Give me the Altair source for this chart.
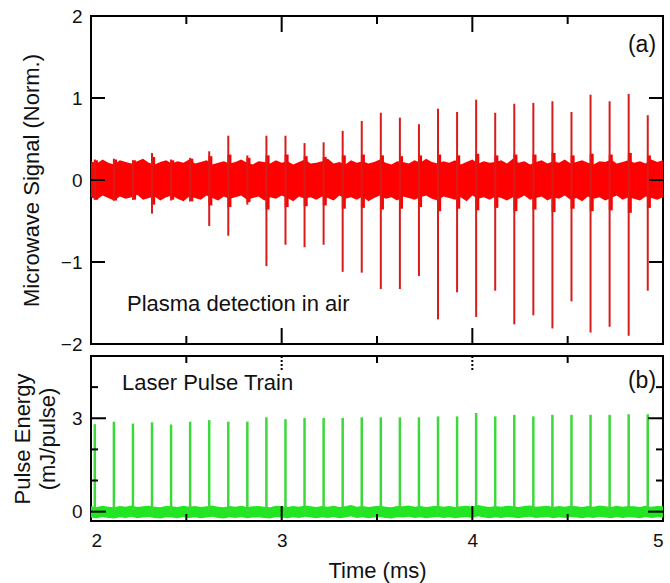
import altair as alt
import numpy as np
import pandas as pd

FONT = "Liberation Sans"
W, H1, H2 = 572, 328, 165

# ---- pulse times (ms) ----
pulse_t = [2.02, 2.12, 2.22, 2.32, 2.42, 2.52, 2.62, 2.72, 2.82, 2.92,
           3.02, 3.12, 3.22, 3.32, 3.42, 3.52, 3.62, 3.72, 3.82, 3.92,
           4.02, 4.12, 4.22, 4.32, 4.42, 4.52, 4.62, 4.72, 4.82, 4.92]

# ---- (a) microwave spikes ----
mw_pos = [0.25, 0.26, 0.24, 0.33, 0.25, 0.27, 0.35, 0.54, 0.30, 0.54,
          0.54, 0.45, 0.46, 0.60, 0.72, 0.82, 0.76, 0.68, 0.87, 0.83,
          0.98, 0.82, 0.93, 0.94, 0.96, 0.83, 1.04, 0.96, 1.05, 0.79]
mw_neg = [-0.24, -0.25, -0.24, -0.41, -0.25, -0.26, -0.56, -0.68, -0.30, -1.05,
          -0.79, -0.82, -0.79, -1.12, -1.13, -1.33, -1.33, -1.17, -1.70, -1.37,
          -1.67, -1.35, -1.76, -1.65, -1.81, -1.48, -1.86, -1.79, -1.90, -1.35]
mw_sh_hi = [0.24, 0.25, 0.24, 0.28, 0.24, 0.26, 0.29, 0.31, 0.27, 0.30,
            0.31, 0.29, 0.28, 0.30, 0.31, 0.30, 0.29, 0.30, 0.31, 0.30,
            0.32, 0.30, 0.31, 0.31, 0.33, 0.30, 0.32, 0.31, 0.33, 0.30]
mw_sh_lo = [-0.24, -0.25, -0.24, -0.30, -0.24, -0.26, -0.31, -0.33, -0.27, -0.36,
            -0.33, -0.32, -0.31, -0.35, -0.34, -0.36, -0.35, -0.33, -0.38, -0.35,
            -0.37, -0.34, -0.38, -0.36, -0.39, -0.35, -0.38, -0.37, -0.40, -0.34]

# ---- (a) noise band envelope ----
mw_hi = [0.23, 0.20, 0.25, 0.21, 0.19, 0.24, 0.22, 0.20, 0.23, 0.26,
         0.21, 0.19, 0.22, 0.24, 0.20, 0.23, 0.21, 0.25, 0.20, 0.22,
         0.24, 0.19, 0.21, 0.23, 0.20, 0.22, 0.25, 0.21, 0.19, 0.23,
         0.22, 0.20, 0.24, 0.21, 0.23, 0.19, 0.22, 0.25, 0.20, 0.21,
         0.23, 0.26, 0.20, 0.22, 0.19, 0.24, 0.21, 0.23, 0.20, 0.22,
         0.25, 0.21, 0.19, 0.23, 0.22, 0.20, 0.24, 0.21, 0.26, 0.22,
         0.20, 0.23, 0.21, 0.24, 0.19, 0.22, 0.25, 0.20, 0.23, 0.21,
         0.22, 0.24, 0.20, 0.26, 0.21, 0.23, 0.19, 0.22, 0.24, 0.20,
         0.23, 0.21, 0.25, 0.20, 0.22, 0.24, 0.21, 0.19, 0.23, 0.22,
         0.25, 0.20, 0.22, 0.24, 0.21, 0.23, 0.20, 0.25, 0.22, 0.24]
mw_lo = [-0.21, -0.24, -0.19, -0.22, -0.25, -0.20, -0.23, -0.21, -0.18, -0.24,
         -0.22, -0.20, -0.25, -0.21, -0.19, -0.23, -0.26, -0.20, -0.22, -0.24,
         -0.19, -0.22, -0.25, -0.20, -0.23, -0.21, -0.19, -0.24, -0.22, -0.20,
         -0.25, -0.21, -0.23, -0.19, -0.22, -0.26, -0.20, -0.23, -0.21, -0.24,
         -0.20, -0.22, -0.25, -0.19, -0.23, -0.21, -0.24, -0.20, -0.26, -0.22,
         -0.19, -0.23, -0.21, -0.25, -0.20, -0.22, -0.24, -0.21, -0.19, -0.23,
         -0.25, -0.20, -0.22, -0.24, -0.21, -0.26, -0.19, -0.23, -0.21, -0.24,
         -0.20, -0.22, -0.25, -0.21, -0.23, -0.19, -0.24, -0.22, -0.20, -0.25,
         -0.21, -0.23, -0.19, -0.24, -0.22, -0.26, -0.20, -0.23, -0.21, -0.25,
         -0.22, -0.19, -0.24, -0.21, -0.23, -0.25, -0.20, -0.22, -0.24, -0.21]

# ---- (b) laser pulse energies (mJ/pulse) ----
laser_e = [2.81, 2.89, 2.83, 2.87, 2.80, 2.89, 2.94, 2.89, 2.89, 3.03,
           2.97, 3.01, 3.01, 3.01, 3.03, 3.03, 3.03, 3.03, 3.06, 3.06,
           3.17, 3.06, 3.11, 3.06, 3.11, 3.11, 3.11, 3.11, 3.13, 3.13]
las_hi = [0.17, 0.15, 0.19, 0.16, 0.14, 0.18, 0.16, 0.20, 0.15, 0.17,
          0.19, 0.16, 0.14, 0.18, 0.17, 0.15, 0.19, 0.16, 0.18, 0.15,
          0.17, 0.20, 0.16, 0.14, 0.18, 0.16, 0.19, 0.15, 0.17, 0.18,
          0.16, 0.14, 0.19, 0.17, 0.15, 0.18, 0.16, 0.20, 0.17, 0.15,
          0.18, 0.16, 0.19, 0.15, 0.17, 0.21, 0.16, 0.18, 0.15, 0.17,
          0.19, 0.16, 0.14, 0.18, 0.17, 0.20, 0.16, 0.18, 0.15, 0.17,
          0.19, 0.16, 0.18, 0.15, 0.17, 0.19, 0.16, 0.21, 0.17, 0.15,
          0.18, 0.16, 0.19, 0.17, 0.15, 0.18, 0.20, 0.16, 0.17, 0.19,
          0.15, 0.18, 0.16, 0.19, 0.17, 0.15, 0.18, 0.16, 0.20, 0.17,
          0.15, 0.19, 0.16, 0.18, 0.17, 0.15, 0.19, 0.16, 0.18, 0.17]
las_lo = [-0.19, -0.21, -0.17, -0.20, -0.22, -0.18, -0.20, -0.16, -0.21, -0.19,
          -0.17, -0.20, -0.22, -0.18, -0.19, -0.21, -0.17, -0.20, -0.18, -0.21,
          -0.19, -0.16, -0.20, -0.22, -0.18, -0.20, -0.17, -0.21, -0.19, -0.18,
          -0.20, -0.22, -0.17, -0.19, -0.21, -0.18, -0.20, -0.16, -0.19, -0.21,
          -0.18, -0.20, -0.17, -0.21, -0.19, -0.15, -0.20, -0.18, -0.21, -0.19,
          -0.17, -0.20, -0.22, -0.18, -0.19, -0.16, -0.20, -0.18, -0.21, -0.19,
          -0.17, -0.20, -0.18, -0.21, -0.19, -0.17, -0.20, -0.15, -0.19, -0.21,
          -0.18, -0.20, -0.17, -0.19, -0.21, -0.18, -0.16, -0.20, -0.19, -0.17,
          -0.21, -0.18, -0.20, -0.17, -0.19, -0.21, -0.18, -0.20, -0.16, -0.19,
          -0.21, -0.17, -0.20, -0.18, -0.19, -0.21, -0.17, -0.20, -0.18, -0.19]

# ---- tick values ----
x_major = [3, 4]
x_minor = [2.5, 3.5, 4.5]
x_labels = [2, 3, 4, 5]
a_y_major = [-1, 0, 1]
a_y_labels = [-2, -1, 0, 1, 2]
b_y_major = [0, 3]
b_y_minor = [1, 2, 4]
b_y_labels = [0, 3]

RED_BAND = "#ff0000"
RED_SPIKE = "#d81c1c"
GRN_BAND = "#22e622"
GRN_SPIKE = "#3cd83c"

xs = np.linspace(2.0, 5.0, len(mw_hi))
band_a = pd.DataFrame({"t": xs, "hi": mw_hi, "lo": mw_lo})
spk_a = pd.DataFrame({"t": pulse_t, "pos": mw_pos, "neg": mw_neg,
                      "shi": mw_sh_hi, "slo": mw_sh_lo,
                      "ts": [t + 0.006 for t in pulse_t]})
band_b = pd.DataFrame({"t": np.linspace(2.0, 5.0, len(las_hi)), "hi": las_hi, "lo": las_lo})
spk_b = pd.DataFrame({"t": pulse_t, "e": laser_e, "z": [0.0] * len(pulse_t)})

xsc = alt.Scale(domain=[2, 5], nice=False, zero=False)
ysc_a = alt.Scale(domain=[-2, 2], nice=False, zero=False)
ysc_b = alt.Scale(domain=[-0.3, 5], nice=False, zero=False)

common = dict(ticks=False, domain=False, grid=False, labelFont=FONT, labelFontSize=19,
              labelColor="#111111", titleFont=FONT, titleFontSize=22,
              titleFontWeight="normal", titleColor="#111111")

AX_A_Y = alt.Axis(values=a_y_labels, labelPadding=9, title="Microwave Signal (Norm.)",
                  titleX=-60, titleBaseline="middle", **common)
AX_B_X = alt.Axis(values=x_labels, labelPadding=10, title="Time (ms)",
                  titleY=49, titleBaseline="middle", **common)
AX_B_Y = alt.Axis(values=b_y_labels, labelPadding=9, title=["Pulse Energy", "(mJ/pulse)"],
                  titleLineHeight=25, titleX=-69, titleBaseline="middle", **common)


def xticks_layer(vals, length, top, height, xaxis, dash=None):
    kw = dict(color="black", strokeWidth=2)
    if dash:
        kw["strokeDash"] = dash
    d = pd.DataFrame({"v": vals})
    if top:
        return alt.Chart(d).mark_rule(**kw).encode(
            x=alt.X("v:Q", scale=xsc, axis=xaxis), y=alt.value(0), y2=alt.value(length))
    return alt.Chart(d).mark_rule(**kw).encode(
        x=alt.X("v:Q", scale=xsc, axis=xaxis), y=alt.value(height), y2=alt.value(height - length))


def yticks_layer(vals, length, ysc, yaxis):
    d = pd.DataFrame({"v": vals})
    left = alt.Chart(d).mark_rule(color="black", strokeWidth=2).encode(
        y=alt.Y("v:Q", scale=ysc, axis=yaxis), x=alt.value(0), x2=alt.value(length))
    right = alt.Chart(d).mark_rule(color="black", strokeWidth=2).encode(
        y=alt.Y("v:Q", scale=ysc, axis=yaxis), x=alt.value(W - length), x2=alt.value(W))
    return [left, right]


def text_layer(txt, x, y, size, align="left"):
    return alt.Chart(pd.DataFrame({"s": [txt]})).mark_text(
        font=FONT, fontSize=size, align=align, baseline="middle", color="#111111"
    ).encode(text="s:N", x=alt.value(x), y=alt.value(y))


# ---------- panel (a) ----------
a_band = alt.Chart(band_a).mark_area(interpolate="linear", color=RED_BAND).encode(
    x=alt.X("t:Q", scale=xsc, axis=None),
    y=alt.Y("hi:Q", scale=ysc_a, axis=AX_A_Y),
    y2="lo:Q",
)
a_sh = alt.Chart(spk_a).mark_rule(color=RED_BAND, strokeWidth=4).encode(
    x=alt.X("ts:Q", scale=xsc, axis=None),
    y=alt.Y("slo:Q", scale=ysc_a, axis=AX_A_Y), y2="shi:Q")
a_spk = alt.Chart(spk_a).mark_rule(color=RED_SPIKE, strokeWidth=2).encode(
    x=alt.X("t:Q", scale=xsc, axis=None),
    y=alt.Y("neg:Q", scale=ysc_a, axis=AX_A_Y), y2="pos:Q")

top = alt.layer(
    a_band, a_sh, a_spk,
    xticks_layer(x_major, 16, True, H1, None), xticks_layer(x_minor, 8, True, H1, None),
    xticks_layer(x_major, 16, False, H1, None), xticks_layer(x_minor, 8, False, H1, None),
    *yticks_layer(a_y_major, 14, ysc_a, AX_A_Y),
    text_layer("(a)", 551, 29, 23, align="center"),
    text_layer("Plasma detection in air", 36, 288, 22),
).properties(width=W, height=H1)

# ---------- panel (b) ----------
b_band = alt.Chart(band_b).mark_area(interpolate="linear", color=GRN_BAND).encode(
    x=alt.X("t:Q", scale=xsc, axis=AX_B_X),
    y=alt.Y("hi:Q", scale=ysc_b, axis=AX_B_Y),
    y2="lo:Q",
)
b_spk = alt.Chart(spk_b).mark_rule(color=GRN_SPIKE, strokeWidth=2.5).encode(
    x=alt.X("t:Q", scale=xsc, axis=AX_B_X),
    y=alt.Y("z:Q", scale=ysc_b, axis=AX_B_Y), y2="e:Q")

bottom = alt.layer(
    b_band, b_spk,
    xticks_layer(x_major, 15, True, H2, AX_B_X, dash=[2, 2]),
    xticks_layer(x_minor, 7, True, H2, AX_B_X),
    xticks_layer(x_major, 15, False, H2, AX_B_X), xticks_layer(x_minor, 7, False, H2, AX_B_X),
    *yticks_layer(b_y_major, 15, ysc_b, AX_B_Y), *yticks_layer(b_y_minor, 7, ysc_b, AX_B_Y),
    text_layer("Laser Pulse Train", 31, 27, 22),
    text_layer("(b)", 551, 25, 23, align="center"),
).properties(width=W, height=H2)

chart = alt.vconcat(top, bottom, spacing=12, bounds="flush").configure_view(
    stroke="black", strokeWidth=2
).properties(
    padding={"left": 9, "top": 6, "right": 0, "bottom": 1},
    background="white",
)

chart.save("out.html", embed_options={"renderer": "svg", "actions": False})
